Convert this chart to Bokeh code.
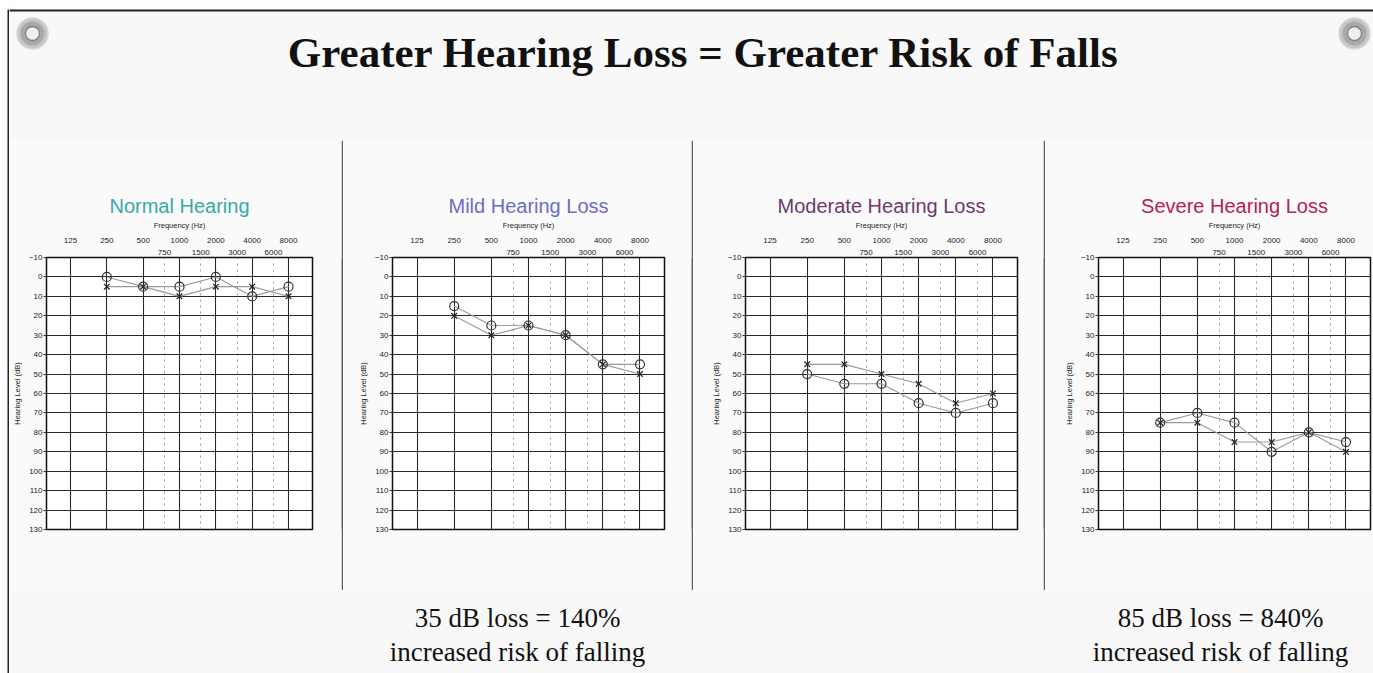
from bokeh.plotting import figure
from bokeh.layouts import row, column
from bokeh.models import Range1d, FixedTicker, LinearAxis, Grid
from bokeh.core.properties import value
from bokeh.embed import file_html
from bokeh.resources import INLINE

# ---------------- data ----------------
MAIN_TITLE = "Greater Hearing Loss = Greater Risk of Falls"
FREQS = [250, 500, 1000, 2000, 4000, 8000]
OCTAVE_TICKS = [125, 250, 500, 1000, 2000, 4000, 8000]
HALF_TICKS = [750, 1500, 3000, 6000]
DB_TICKS = list(range(-10, 131, 10))

PANEL_TITLES = ["Normal Hearing", "Mild Hearing Loss", "Moderate Hearing Loss", "Severe Hearing Loss"]
PANEL_COLORS = ["#36aaa7", "#6d6cc4", "#6a3a6c", "#b3234f"]

normal_o = [0, 5, 5, 0, 10, 5]
normal_x = [5, 5, 10, 5, 5, 10]
mild_o = [15, 25, 25, 30, 45, 45]
mild_x = [20, 30, 25, 30, 45, 50]
moderate_o = [50, 55, 55, 65, 70, 65]
moderate_x = [45, 45, 50, 55, 65, 60]
severe_o = [75, 70, 75, 90, 80, 85]
severe_x = [75, 75, 85, 85, 80, 90]

NOTE_MILD = ["35 dB loss = 140%", "increased risk of falling"]
NOTE_SEVERE = ["85 dB loss = 840%", "increased risk of falling"]

# ---------------- style / layout ----------------
BG = "#f8f8f8"
W = 1373
H = 673
HEADER_H = 140
MID_H = 450
BOTTOM_H = 83
STRIP_W = 9
X_LO = 125 / 2 ** 0.66
X_HI = 8000 * 2 ** 0.66
SANS = "Liberation Sans"
SERIF = "Liberation Serif"


def canvas(width, height, bg=BG):
    p = figure(width=width, height=height, toolbar_location=None, output_backend="svg",
               x_axis_location=None, y_axis_location=None, min_border=0,
               x_range=Range1d(0, width), y_range=Range1d(height, 0))
    p.grid.visible = False
    p.outline_line_color = None
    p.background_fill_color = bg
    p.border_fill_color = bg
    return p


def audiogram(title, color, o_vals, x_vals, width, bl, br):
    p = figure(width=width, height=MID_H, x_axis_type="log", x_axis_location=None,
               y_axis_location=None, x_range=Range1d(X_LO, X_HI), y_range=Range1d(130, -10),
               title=title, toolbar_location=None, output_backend="svg",
               min_border_left=bl, min_border_right=br, min_border_top=117, min_border_bottom=61)
    p.grid.visible = False
    p.background_fill_color = "white"
    p.border_fill_color = "#fafafa"
    p.outline_line_color = "#111111"
    p.outline_line_width = 1.5
    p.title.text_color = color
    p.title.text_font = SANS
    p.title.text_font_size = "20px"
    p.title.text_font_style = "normal"
    p.title.align = "center"
    p.title.standoff = 1

    yax = LinearAxis(ticker=FixedTicker(ticks=DB_TICKS), axis_label="Hearing Level (dB)")
    yax.axis_line_color = None
    yax.major_tick_out = 3
    yax.major_tick_in = 0
    yax.major_tick_line_color = "#333333"
    yax.major_label_standoff = 1
    yax.major_label_text_font = SANS
    yax.major_label_text_font_size = "8px"
    yax.major_label_text_color = "#222222"
    yax.axis_label_text_font = SANS
    yax.axis_label_text_font_size = "7.5px"
    yax.axis_label_text_font_style = "normal"
    yax.axis_label_standoff = 4
    yax.axis_label_text_color = "#222222"
    p.add_layout(yax, "left")

    for ticks, lab, standoff in ((HALF_TICKS, None, 3), (OCTAVE_TICKS, "Frequency (Hz)", 4)):
        ax = LinearAxis(ticker=FixedTicker(ticks=ticks),
                        major_label_overrides={t: str(t) for t in ticks})
        ax.axis_line_color = None
        ax.major_tick_line_color = None
        ax.major_tick_out = 0
        ax.major_tick_in = 0
        ax.major_label_standoff = standoff
        ax.major_label_text_font = SANS
        ax.major_label_text_font_size = "8px"
        ax.major_label_text_color = "#222222"
        if lab:
            ax.axis_label = lab
            ax.axis_label_text_font = SANS
            ax.axis_label_text_font_size = "7.5px"
            ax.axis_label_text_font_style = "normal"
            ax.axis_label_standoff = 5
            ax.axis_label_text_color = "#222222"
        p.add_layout(ax, "above")

    p.add_layout(Grid(dimension=0, ticker=FixedTicker(ticks=HALF_TICKS),
                      grid_line_color="#9a9a9a", grid_line_dash="dotted", grid_line_width=1))
    p.add_layout(Grid(dimension=0, ticker=FixedTicker(ticks=OCTAVE_TICKS),
                      grid_line_color="#2a2a2a", grid_line_width=1.1))
    p.add_layout(Grid(dimension=1, ticker=FixedTicker(ticks=DB_TICKS),
                      grid_line_color="#2a2a2a", grid_line_width=1.1))

    p.line(FREQS, o_vals, line_color="#9a9a9a", line_width=1.1)
    p.line(FREQS, x_vals, line_color="#9a9a9a", line_width=1.1)
    p.scatter(FREQS, o_vals, marker="circle", size=9, fill_alpha=0,
              line_color="#333333", line_width=1.2)
    p.scatter(FREQS, x_vals, marker="x", size=8, line_color="#222222", line_width=1.2)
    return p


# ---------------- left edge of the slide (full height strip) ----------------
strip = canvas(STRIP_W, H, "white")
strip.quad(left=[7], right=[STRIP_W], top=[9], bottom=[H], fill_color="#222222", line_color=None)

CW = W - STRIP_W  # width right of the strip

# ---------------- header ----------------
PIN_X = [32 - STRIP_W, 1354 - STRIP_W]
PIN_Y = [33, 33]
hdr = canvas(CW, HEADER_H)
hdr.quad(left=[0], right=[CW], top=[0], bottom=[9], fill_color="white", line_color=None)
hdr.segment(x0=[0], y0=[10], x1=[CW], y1=[10], line_color="#222222", line_width=2.2)
hdr.scatter(x=PIN_X, y=PIN_Y, size=31, fill_color="#c6c6c6", line_color="#d8d8d8", line_width=1.5)
hdr.scatter(x=PIN_X, y=PIN_Y, size=24, fill_color="#a9a9a9", line_color=None)
hdr.scatter(x=PIN_X, y=PIN_Y, size=14, fill_color="#eeeeee", line_color="#808080", line_width=1.3)
hdr.text(x=[703 - STRIP_W], y=[52], text=[MAIN_TITLE], text_font=value(SERIF),
         text_font_style="bold", text_font_size="43px", text_align="center",
         text_baseline="middle", text_color="#111111")

# ---------------- middle ----------------
panels = [
    audiogram(PANEL_TITLES[0], PANEL_COLORS[0], normal_o, normal_x, 332, 31, 29),
    audiogram(PANEL_TITLES[1], PANEL_COLORS[1], mild_o, mild_x, 348, 49, 27),
    audiogram(PANEL_TITLES[2], PANEL_COLORS[2], moderate_o, moderate_x, 350, 52, 26),
    audiogram(PANEL_TITLES[3], PANEL_COLORS[3], severe_o, severe_x, 328, 53, 3),
]
seps = [canvas(2, MID_H, "#5c5c5c") for _ in range(3)]
mid = row(panels[0], seps[0], panels[1], seps[1], panels[2], seps[2], panels[3], spacing=0)

# ---------------- bottom ----------------
bot = canvas(CW, BOTTOM_H)
bot.text(x=[517 - STRIP_W] * 2, y=[27, 61], text=NOTE_MILD, text_font=value(SERIF),
         text_font_size="27px", text_align="center", text_baseline="middle", text_color="#111111")
bot.text(x=[1220 - STRIP_W] * 2, y=[27, 61], text=NOTE_SEVERE, text_font=value(SERIF),
         text_font_size="27px", text_align="center", text_baseline="middle", text_color="#111111")

layout = row(strip, column(hdr, mid, bot, spacing=0), spacing=0)
open("out.html", "w").write(file_html(layout, INLINE))
